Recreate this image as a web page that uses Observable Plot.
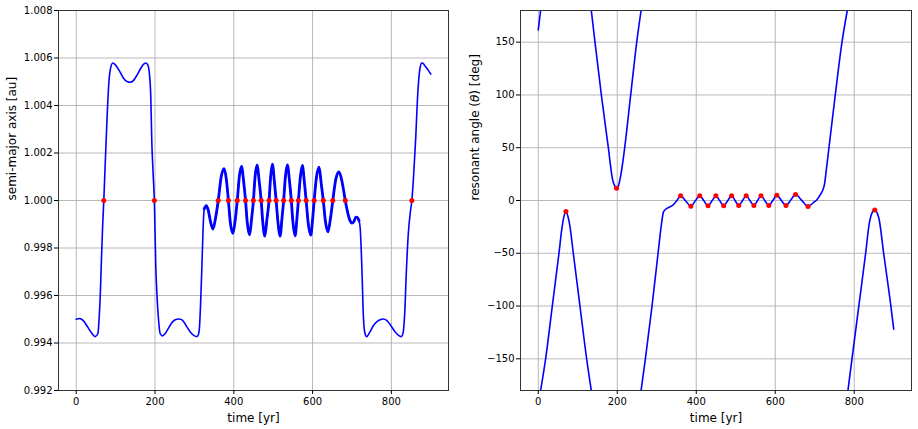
<!DOCTYPE html>
<html>
<head>
<meta charset="utf-8">
<script src="https://cdn.jsdelivr.net/npm/d3@7"></script>
<script src="https://cdn.jsdelivr.net/npm/@observablehq/plot@0.6"></script>
<style>
  html, body { margin: 0; padding: 0; background: #fff; }
  #wrap { display: flex; width: 918px; height: 429px; }
  #wrap svg { display: block; }
</style>
</head>
<body>
<div id="wrap"></div>
<script>
// ---- semi-major axis vs time ----
const aTime = [0, 8, 18, 28, 40, 48, 55, 58, 61, 64, 67, 70, 73, 76, 79.5, 83, 87, 93, 100, 110, 120, 130, 137, 145, 155, 165, 172, 177, 182, 186, 189, 192, 195, 198.3, 202, 205, 209, 213, 219, 226, 235, 245, 255, 262, 270, 280, 290, 300, 306, 310, 313, 316, 319, 322, 325, 330, 335, 341, 347, 353,
  360.5, 368, 375.5, 381, 386.3, 391, 397.5, 403, 408.8, 414, 419.5, 425, 429.8, 434, 440, 445, 449.8, 454, 459, 464.5, 469.5, 473.5, 478.7, 484, 489.5, 493.5, 498, 503, 507.5, 512, 517.6, 522, 526.5, 531, 536, 541.5, 546, 550, 555.6, 560, 564, 569, 574, 579, 583.7, 588.5, 595.4, 600, 604, 610, 616.5, 622, 627.2, 632, 639, 645, 651.3, 659, 667, 674, 679, 683,
  689, 695, 700, 705, 710, 714, 718, 721, 725, 729, 733, 737.5, 745, 755, 765, 775, 780, 788, 798, 808, 818, 825, 830, 834, 838, 843, 848, 852, 857, 862, 866, 869, 873, 877, 880, 886, 893, 900];
const aValue = [0.99500, 0.99503, 0.99494, 0.99470, 0.99440, 0.99427, 0.99440, 0.99500, 0.99600, 0.99750, 0.99890, 1.00000, 1.00130, 1.00254, 1.00394, 1.00500, 1.00555, 1.00579, 1.00570, 1.00545, 1.00515, 1.00500, 1.00498, 1.00505, 1.00530, 1.00560, 1.00575, 1.00579, 1.00570, 1.00530, 1.00450, 1.00240, 1.00120, 1.00000, 0.99721, 0.99600, 0.99497, 0.99440, 0.99430, 0.99440, 0.99465, 0.99490, 0.99500, 0.99501, 0.99495, 0.99470, 0.99445, 0.99430, 0.99427, 0.99435, 0.99470, 0.99580, 0.99721, 0.99880, 0.99965, 0.99978, 0.99960, 0.99910, 0.99880, 0.99920,
  1.00000, 1.00100, 1.00134, 1.00090, 1.00000, 0.99910, 0.99862, 0.99910, 1.00000, 1.00100, 1.00144, 1.00080, 1.00000, 0.99910, 0.99855, 0.99920, 1.00000, 1.00100, 1.00149, 1.00080, 1.00000, 0.99910, 0.99850, 0.99920, 1.00000, 1.00100, 1.00153, 1.00080, 1.00000, 0.99910, 0.99850, 0.99920, 1.00000, 1.00100, 1.00150, 1.00080, 1.00000, 0.99910, 0.99851, 0.99920, 1.00000, 1.00100, 1.00148, 1.00080, 1.00000, 0.99910, 0.99854, 0.99920, 1.00000, 1.00100, 1.00140, 1.00070, 1.00000, 0.99920, 0.99868, 0.99920, 1.00000, 1.00090, 1.00120, 1.00085, 1.00040, 1.00000,
  0.99950, 0.99915, 0.99905, 0.99912, 0.99930, 0.99928, 0.99915, 0.99880, 0.99721, 0.99510, 0.99440, 0.99427, 0.99445, 0.99475, 0.99492, 0.99500, 0.99501, 0.99495, 0.99475, 0.99450, 0.99432, 0.99427, 0.99445, 0.99530, 0.99700, 0.99861, 0.99950, 1.00000, 1.00120, 1.00270, 1.00420, 1.00500, 1.00560, 1.00579, 1.00578, 1.00565, 1.00550, 1.00532];

// ---- resonant angle vs time (null = wrap break at ±180) ----
const thetaTime = [0, 3, 5.9, null,
  5.9, 18.6, 35.5, 52.4, 60, 65, 70, 75, 80, 88.7, 105.6, 122.5, 134.3, null,
  134.3, 143.6, 159.7, 177.4, 188, 194, 198.6, 203, 209, 218.8, 234, 249.3, 260.3, null,
  260.3, 271.2, 288, 303.3, 311, 316.9, 322, 327, 333, 339.7, 350,
  360.5, 373.4, 386.3, 397.5, 408.8, 419.3, 429.8, 439.8, 449.8, 459.6, 469.5, 479.5, 489.5, 498.5, 507.5, 517, 526.5, 536.2, 546, 555, 564, 573.8, 583.7, 593.8, 604, 615.6, 627.2, 639.2, 651.3, 667.1, 683,
  698, 705, 715, 721.6, 725, 729, 736, 752, 769, 782.4, null,
  784.1, 794.3, 811.6, 828.9, 838, 842, 846, 851.7, 857, 862.7, 874.5, 892.8, 900];
const thetaValue = [161.6, 171, 180, null,
  -180, -150, -100, -50, -26, -15, -10.4, -15, -24, -50, -100, -150, -180, null,
  180, 150, 100, 50, 20, 13.5, 11.7, 14, 24, 50, 100, 150, 180, null,
  -180, -150, -100, -50, -25, -11, -8.5, -7.2, -6, -4.7, -0.5,
  4.4, -0.5, -5.4, -0.3, 4.4, -0.3, -5.0, -0.3, 4.4, -0.3, -5.0, -0.2, 4.4, -0.2, -4.7, -0.2, 4.4, -0.2, -4.7, -0.2, 4.4, -0.2, -4.7, 0.0, 5.0, 0.0, -4.7, 0.4, 5.8, 0.1, -5.6,
  -1.6, 0.5, 6, 11, 16, 28, 50, 100, 150, 180, null,
  -180, -150, -100, -50, -22, -15, -11, -9.1, -11, -17.3, -50, -100, -121.9];

// ---- marked extrema (red dots) ----
const dotTime = [70, 198.3, 360.5, 386.3, 408.8, 429.8, 449.8, 469.5, 489.5, 507.5, 526.5, 546, 564, 583.7, 604, 627.2, 651.3, 683, 852];
const dotSemiMajor = [1.000, 1.000, 1.000, 1.000, 1.000, 1.000, 1.000, 1.000, 1.000, 1.000, 1.000, 1.000, 1.000, 1.000, 1.000, 1.000, 1.000, 1.000, 1.000];
const dotTheta = [-10.4, 11.7, 4.4, -5.4, 4.4, -5.0, 4.4, -5.0, 4.4, -4.7, 4.4, -4.7, 4.4, -4.7, 5.0, -4.7, 5.8, -5.6, -9.1];

// ---- ticks ----
const timeTicks = [0, 200, 400, 600, 800];
const aTicks = [0.992, 0.994, 0.996, 0.998, 1.000, 1.002, 1.004, 1.006, 1.008];
const thetaTicks = [-150, -100, -50, 0, 50, 100, 150];

const aData = aTime.map((t, i) => ({t, a: aValue[i]}));
const thetaData = thetaTime.map((t, i) => ({t, th: thetaValue[i]}));
const dots = dotTime.map((t, i) => ({t, a: dotSemiMajor[i], th: dotTheta[i]}));

const BLUE = "#0000ff", RED = "#ff0000", GRID = "#b0b0b0";
const common = {
  width: 459, height: 429,
  marginTop: 10, marginBottom: 39,
  style: {fontFamily: "'DejaVu Sans', sans-serif", fontSize: "10px", color: "#000", background: "#fff"}
};
const xScale = {domain: [-45, 945]};

const left = Plot.plot({
  ...common,
  marginLeft: 58, marginRight: 11,
  x: xScale,
  y: {domain: [0.992, 1.008]},
  marks: [
    Plot.gridX(timeTicks, {stroke: GRID, strokeOpacity: 1, strokeWidth: 0.9}),
    Plot.gridY(aTicks, {stroke: GRID, strokeOpacity: 1, strokeWidth: 0.9}),
    Plot.line(aData, {x: "t", y: "a", stroke: BLUE, strokeWidth: 1.6, curve: "monotone-x"}),
    Plot.line(aData.filter(d => d.t >= 325 && d.t <= 718), {x: "t", y: "a", stroke: BLUE, strokeWidth: 2.8, curve: "monotone-x", strokeLinecap: "round"}),
    Plot.dot(dots, {x: "t", y: "a", r: 2.5, fill: RED, stroke: "none"}),
    Plot.frame({stroke: "#333", strokeWidth: 1}),
    Plot.axisX(timeTicks, {tickSize: 4, tickPadding: 3, fontSize: 10, label: null, tickFormat: d3.format("d")}),
    Plot.axisY(aTicks, {tickSize: 4, tickPadding: 2, fontSize: 10, label: null, tickFormat: d3.format(".3f")}),
    Plot.text(["time [yr]"], {frameAnchor: "bottom", dy: 28, fontSize: 12, lineAnchor: "middle"}),
    Plot.text(["semi-major axis [au]"], {frameAnchor: "left", dx: -46, rotate: -90, fontSize: 12})
  ]
});

const right = Plot.plot({
  ...common,
  marginLeft: 61, marginRight: 7,
  x: xScale,
  y: {domain: [-180, 180]},
  marks: [
    Plot.gridX(timeTicks, {stroke: GRID, strokeOpacity: 1, strokeWidth: 0.9}),
    Plot.gridY(thetaTicks, {stroke: GRID, strokeOpacity: 1, strokeWidth: 0.9}),
    Plot.line(thetaData, {x: "t", y: "th", stroke: BLUE, strokeWidth: 1.6, curve: "monotone-x", clip: true}),
    Plot.dot(dots, {x: "t", y: "th", r: 2.5, fill: RED, stroke: "none"}),
    Plot.frame({stroke: "#333", strokeWidth: 1}),
    Plot.axisX(timeTicks, {tickSize: 4, tickPadding: 3, fontSize: 10, label: null, tickFormat: d3.format("d")}),
    Plot.axisY(thetaTicks, {tickSize: 4, tickPadding: 2, fontSize: 10, label: null, tickFormat: d3.format("d")}),
    Plot.text(["time [yr]"], {frameAnchor: "bottom", dy: 28, fontSize: 12, lineAnchor: "middle"}),
    Plot.text(["resonant angle (θ) [deg]"], {frameAnchor: "left", dx: -45, rotate: -90, fontSize: 12})
  ]
});

// italicise the θ in the right-hand axis label
d3.select(right).selectAll("text").each(function () {
  const t = this.textContent;
  if (t === "resonant angle (θ) [deg]") {
    const s = d3.select(this);
    s.text(null);
    s.append("tspan").text("resonant angle (");
    s.append("tspan").attr("font-style", "italic").text("θ");
    s.append("tspan").text(") [deg]");
  }
});

document.getElementById("wrap").append(left, right);
</script>
</body>
</html>
